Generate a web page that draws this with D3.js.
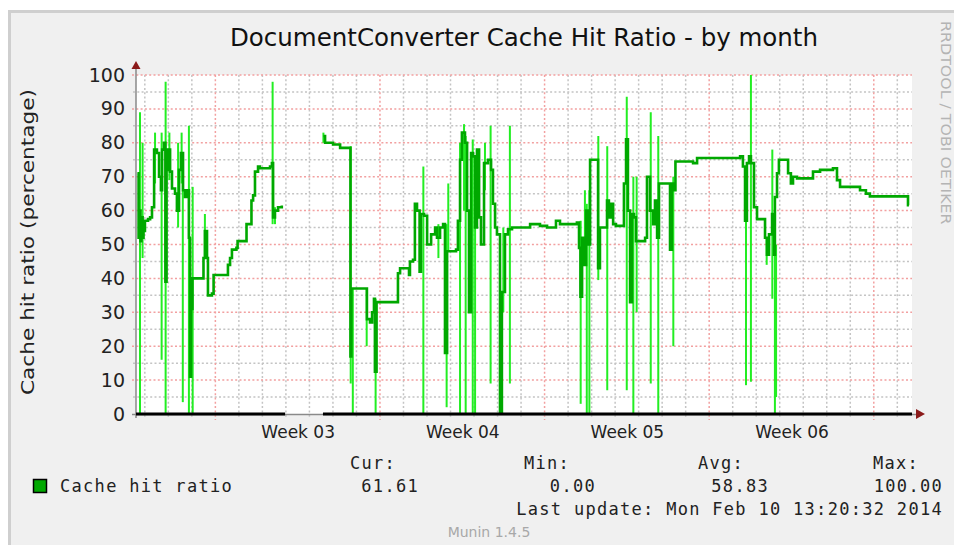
<!DOCTYPE html>
<html>
<head>
<meta charset="utf-8">
<script src="https://cdn.jsdelivr.net/npm/d3@7"></script>
<style>
  body { margin: 0; background: #fff; }
  svg { display: block; }
</style>
</head>
<body>
<div id="chart"></div>
<script>
const w = 954;
const h = 545;
const plotLeft = 136;
const plotRight = 912;
const plotTop = 75;
const plotBottom = 414;

const title = 'DocumentConverter Cache Hit Ratio - by month';
const yTitle = 'Cache hit ratio (percentage)';
const sideText = 'RRDTOOL / TOBI OETIKER';
const footer = 'Munin 1.4.5';

// time axis: 33 days, values below are day offsets from the start
const startTime = Date.UTC(2014, 0, 8, 15, 0);
const spanDays = 33;
const yTicks = [0, 10, 20, 30, 40, 50, 60, 70, 80, 90, 100];

// [day, hit ratio %], null = no data
const hitRatio = [
  [0.06,71],[0.11,52],[0.15,60],[0.19,51],[0.23,58],[0.28,52],[0.32,56],[0.36,54],[0.38,57],
  [0.51,57.5],[0.60,58],[0.68,61],[0.77,78],[0.89,77],[0.98,70],[1.06,66],[1.11,78],[1.19,80],
  [1.25,39],[1.30,72],[1.36,78],[1.45,71.5],[1.53,66.5],[1.66,65],[1.74,60],[1.83,72],[1.91,77],
  [2.00,66],[2.08,64],[2.17,66],[2.25,52],[2.30,11],[2.34,31],[2.40,40],[2.83,40],[2.87,46],
  [2.93,54],[3.02,46],[3.06,35],[3.23,35.5],[3.30,41],[3.85,41],[3.91,44],[4.00,46],[4.08,48.5],
  [4.27,49],[4.32,51],[4.64,51],[4.70,56],[4.85,56],[4.91,63],[4.98,64.5],[5.06,71.5],[5.19,73],
  [5.27,72.5],[5.70,73],[5.78,74],[5.83,58],[5.91,60],[6.04,61],[6.20,61.5],[6.21,null],
  [7.97,82],[8.04,80],[8.38,79.5],[8.68,78.5],[9.02,78.5],[9.12,17],[9.16,37],[9.74,37],[9.82,28],
  [9.95,27],[10.04,30],[10.12,34],[10.16,12.5],[10.23,33],[11.08,33],[11.14,41.5],[11.23,43],
  [11.57,43],[11.61,41],[11.65,45],[11.78,45.5],[11.86,62],[11.95,60],[12.06,42],[12.12,59],
  [12.25,58.5],[12.38,50],[12.55,53],[12.72,55],[12.80,52],[12.93,55],[13.06,56],[13.14,18],
  [13.23,48],[13.61,48.5],[13.69,57],[13.78,75],[13.86,83],[13.99,80],[14.08,60],[14.16,30],
  [14.25,77],[14.33,76],[14.42,55],[14.50,78],[14.59,58],[14.67,50],[14.80,74],[14.97,75],
  [15.10,72],[15.18,62],[15.27,55],[15.35,53],[15.48,0.5],[15.56,36],[15.69,53],[15.82,54.5],
  [15.99,55],[16.33,55],[16.76,56],[17.18,55.5],[17.48,55],[17.86,57],[18.03,56],[18.75,56.5],
  [18.84,49],[18.90,34.6],[18.97,52],[19.05,44],[19.14,60],[19.22,50],[19.31,75],[19.56,75],
  [19.65,43],[19.73,55],[19.94,55],[20.03,63],[20.11,58],[20.20,62],[20.29,56],[20.41,55.5],
  [20.67,55.5],[20.75,68],[20.84,81],[20.92,60],[21.01,33],[21.09,59],[21.18,58],[21.26,51],
  [21.65,52],[21.73,70],[21.86,60],[21.99,56],[22.07,63],[22.16,52],[22.24,68],[22.58,68],
  [22.71,48.5],[22.79,68],[22.88,66],[22.94,74.5],[23.35,74.5],[23.69,74],[23.86,75.5],
  [25.26,75.5],[25.69,76],[25.81,73],[25.90,57],[25.98,74],[26.07,76],[26.15,74],[26.28,61],
  [26.41,57.5],[26.66,57.5],[26.75,52],[26.83,47],[26.92,53],[27.05,59],[27.13,47],[27.17,64],
  [27.26,71],[27.34,75],[27.60,75],[27.73,71],[27.85,68],[27.94,70],[28.11,69.5],[28.45,69.5],
  [28.79,71.5],[29.09,72],[29.64,72.5],[29.81,69],[29.94,67],[30.79,66],[31.04,65],[31.21,64.2],
  [32.70,64.2],[32.83,61.6],[32.87,61.6]
];

// short excursions inside one step: [day, low %, high %]
const spikes = [
  [0.17,0,89],[0.28,46,80],[0.81,68,83],[1.09,16,83],[1.26,0,98],[1.42,69,83],[1.79,55,80],
  [1.94,68,83],[1.99,3.5,69],[2.25,0,85],[2.41,0,67],[2.93,46,59],[5.81,56,98],[5.91,56,61],
  [7.97,80,83],[9.13,9,79],[9.22,0,37],[9.81,20,37],[10.19,0,34],[12.22,0,73],[12.86,46,56],
  [13.21,2,56],[13.28,48,68],[13.78,0,80],[13.95,60,85.5],[14.02,0,82],[14.32,0,81],[14.42,0,60],
  [14.84,66,80],[15.08,9,85],[15.48,0,50],[15.62,30,55],[15.90,9,85],[18.91,3,57],[19.09,45,66],
  [19.17,0,62],[19.28,0,66],[19.66,39.5,82],[20.04,7,79],[20.87,7,93.6],[21.15,0,70],
  [21.29,30,70],[21.89,9,89],[22.21,0,82],[22.85,20,70],[25.94,8.5,57],[26.15,9.5,100],
  [26.82,44,52],[27.06,34,78],[27.17,0,60],[27.22,5,50]
];

// periods with data (black band on the zero line)
const coverage = [[0, 6.34], [7.95, 33]];

const seriesName = 'Cache hit ratio';
const statLabels = ['Cur:', 'Min:', 'Avg:', 'Max:'];
const statValues = ['61.61', '0.00', '58.83', '100.00'];
const lastUpdate = 'Last update: Mon Feb 10 13:20:32 2014';

const toDate = d => new Date(startTime + d * 864e5);

const svg = d3.select('#chart')
  .append('svg')
  .attr('width', w)
  .attr('height', h);

// canvas + frame
svg.append('rect').attr('x', 8).attr('y', 10).attr('width', w - 8).attr('height', h - 10)
  .attr('fill', '#f0f0f0');
svg.append('path').attr('d', `M9.5,${h}V11.5H${w}`)
  .attr('fill', 'none').attr('stroke', '#cfcfcf').attr('stroke-width', 3);

const xScale = d3.scaleUtc()
  .domain([toDate(0), toDate(spanDays)])
  .range([plotLeft, plotRight]);
const yScale = d3.scaleLinear()
  .domain([0, 100])
  .range([plotBottom, plotTop]);

svg.append('rect')
  .attr('x', plotLeft).attr('y', plotTop)
  .attr('width', plotRight - plotLeft).attr('height', plotBottom - plotTop)
  .attr('fill', '#fff');

// grid
const minorColor = '#c4c4c4';
const majorColor = '#f2a0a0';
const days = d3.utcDay.range(...xScale.domain()).filter(d => d.getUTCDay() !== 0);
const weeks = d3.utcSunday.range(...xScale.domain());
const grid = svg.append('g').attr('stroke-dasharray', '2,2.3').attr('stroke-width', 1.5);

grid.selectAll('.vminor').data(days).enter().append('line')
  .attr('x1', d => xScale(d)).attr('x2', d => xScale(d))
  .attr('y1', plotTop).attr('y2', plotBottom + 4)
  .attr('stroke', minorColor);
grid.selectAll('.hminor').data(d3.range(5, 100, 10)).enter().append('line')
  .attr('x1', plotLeft - 3).attr('x2', plotRight)
  .attr('y1', d => yScale(d)).attr('y2', d => yScale(d))
  .attr('stroke', minorColor);
grid.selectAll('.vmajor').data(weeks).enter().append('line')
  .attr('x1', d => xScale(d)).attr('x2', d => xScale(d))
  .attr('y1', plotTop).attr('y2', plotBottom + 6)
  .attr('stroke', majorColor);
grid.selectAll('.hmajor').data(yTicks.slice(1)).enter().append('line')
  .attr('x1', plotLeft - 4).attr('x2', plotRight)
  .attr('y1', d => yScale(d)).attr('y2', d => yScale(d))
  .attr('stroke', majorColor);

// data
svg.append('g').selectAll('line').data(spikes).enter().append('line')
  .attr('x1', d => xScale(toDate(d[0]))).attr('x2', d => xScale(toDate(d[0])))
  .attr('y1', d => yScale(d[1])).attr('y2', d => yScale(d[2]))
  .attr('stroke', '#22ee22').attr('stroke-width', 2);

const line = d3.line()
  .defined(d => d[1] !== null)
  .x(d => xScale(toDate(d[0])))
  .y(d => yScale(d[1]))
  .curve(d3.curveStepAfter);
svg.append('path')
  .datum(hitRatio)
  .attr('d', line)
  .attr('fill', 'none')
  .attr('stroke', '#00a800')
  .attr('stroke-width', 2.6);

// axes lines and arrows
const arrowColor = '#8b1a1a';
svg.append('line').attr('x1', plotLeft).attr('x2', plotLeft)
  .attr('y1', plotBottom + 4).attr('y2', plotTop - 8)
  .attr('stroke', '#8a8a8a').attr('stroke-width', 1.5);
svg.append('line').attr('x1', plotLeft - 4).attr('x2', plotRight + 6)
  .attr('y1', plotBottom + 0.5).attr('y2', plotBottom + 0.5)
  .attr('stroke', '#8a8a8a').attr('stroke-width', 1.5);
svg.selectAll('.cover').data(coverage).enter().append('line')
  .attr('x1', d => xScale(toDate(d[0]))).attr('x2', d => xScale(toDate(d[1])))
  .attr('y1', plotBottom).attr('y2', plotBottom)
  .attr('stroke', '#000').attr('stroke-width', 3);
svg.append('path')
  .attr('d', `M${plotLeft - 4.5},${plotTop - 6}L${plotLeft},${plotTop - 14}L${plotLeft + 4.5},${plotTop - 6}Z`)
  .attr('fill', arrowColor);
svg.append('path')
  .attr('d', `M${plotRight + 4},${plotBottom - 5}L${plotRight + 13},${plotBottom}L${plotRight + 4},${plotBottom + 5}Z`)
  .attr('fill', arrowColor);

// y axis labels
const yAxis = d3.axisLeft(yScale).tickValues(yTicks).tickSize(0).tickPadding(11);
svg.append('g')
  .attr('transform', `translate(${plotLeft},0)`)
  .call(yAxis)
  .call(g => g.select('.domain').remove())
  .selectAll('text')
  .attr('font-family', 'DejaVu Sans')
  .attr('font-size', 19)
  .attr('fill', '#222');

// week labels
const weekCenters = weeks.map(d => new Date(+d + 3.5 * 864e5))
  .filter(d => d > xScale.domain()[0] && d < xScale.domain()[1]);
const xAxis = d3.axisBottom(xScale)
  .tickValues(weekCenters)
  .tickSize(0)
  .tickPadding(12)
  .tickFormat(d3.utcFormat('Week %V'));
svg.append('g')
  .attr('transform', `translate(0,${plotBottom})`)
  .call(xAxis)
  .call(g => g.select('.domain').remove())
  .selectAll('text')
  .attr('font-family', 'DejaVu Sans')
  .attr('font-size', 17)
  .attr('fill', '#222');

// titles
svg.append('text')
  .text(title)
  .attr('x', 524).attr('y', 46)
  .attr('text-anchor', 'middle')
  .attr('font-family', 'DejaVu Sans')
  .attr('font-size', 24.5)
  .attr('fill', '#111');
svg.append('text')
  .text(yTitle)
  .attr('transform', 'translate(34,242) rotate(-90) scale(1.17,1)')
  .attr('text-anchor', 'middle')
  .attr('font-family', 'DejaVu Sans')
  .attr('font-size', 18.5)
  .attr('fill', '#222');
svg.append('text')
  .text(sideText)
  .attr('transform', 'translate(941,21) rotate(90) scale(1.13,1)')
  .attr('font-family', 'DejaVu Sans')
  .attr('font-size', 14)
  .attr('fill', '#b4b4b4');

// legend
const mono = t => t.attr('font-family', 'DejaVu Sans Mono')
  .attr('font-size', 17)
  .attr('letter-spacing', 1.3)
  .attr('fill', '#222');
svg.append('rect')
  .attr('x', 33.5).attr('y', 479.5).attr('width', 13).attr('height', 13)
  .attr('fill', '#00a800').attr('stroke', '#000').attr('stroke-width', 1.5);
svg.append('text').text(seriesName).attr('x', 60).attr('y', 492).call(mono);

const statHeadX = [350, 524, 698, 873];
const statValueX = [419, 596, 769, 943];
svg.selectAll('.stathead').data(statLabels).enter().append('text')
  .text(d => d).attr('x', (d, i) => statHeadX[i]).attr('y', 469).call(mono);
svg.selectAll('.statval').data(statValues).enter().append('text')
  .text(d => d).attr('x', (d, i) => statValueX[i]).attr('y', 492)
  .attr('text-anchor', 'end').call(mono);
svg.append('text').text(lastUpdate).attr('x', 943).attr('y', 515)
  .attr('text-anchor', 'end').call(mono);

svg.append('text')
  .text(footer)
  .attr('x', 489).attr('y', 537)
  .attr('text-anchor', 'middle')
  .attr('font-family', 'DejaVu Sans')
  .attr('font-size', 14)
  .attr('fill', '#a8a8a8');
</script>
</body>
</html>
